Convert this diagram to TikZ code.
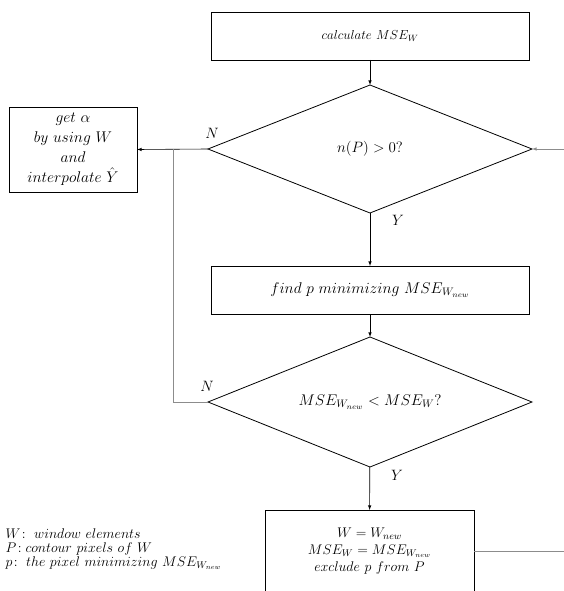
\documentclass[tikz,border=0pt]{standalone}
\usepackage{fix-cm}
\usetikzlibrary{shapes.geometric}

\begin{document}
\begin{tikzpicture}[x=1pt, y=-1pt,
	every node/.style={font=\fontsize{14}{17}\selectfont},
	block/.style={draw, line width=0.8pt, minimum width=318pt, minimum height=48pt, inner sep=0pt, outer sep=0pt},
	decision/.style={draw, diamond, aspect=2.5, line width=0.8pt, minimum width=324pt, minimum height=128pt, inner sep=0pt, outer sep=0pt},
	yn/.style={font=\fontsize{15}{17}\selectfont},
	flow/.style={-latex, line width=0.6pt},
	loop/.style={line width=0.6pt, black!45}]
	\useasboundingbox (0,0) rectangle (564,591);
	\clip (0,0) rectangle (564,591);

	% Boxes
	\node[block, font=\fontsize{13}{16}\selectfont] (calc) at (370,36) {$calculate\ MSE_W$};
	\node[block, font=\fontsize{15.5}{18}\selectfont] (find) at (370,290) {$find\ p\ minimizing\ MSE_{W_{new}}$};
	\node[block, minimum width=128pt, minimum height=85pt, align=center, font=\fontsize{15.5}{20}\selectfont] (getA) at (73,149.5)
		{$get\ \alpha$\\ $by\ using\ W$\\ $and$\\ $interpolate\ \hat{Y}$};
	\node[block, minimum width=209pt, minimum height=82pt, align=center] (update) at (369.5,551)
		{$W=W_{new}$\\ $MSE_W=MSE_{W_{new}}$\\ $exclude\ p\ from\ P$};

	% Decisions
	\node[decision, font=\fontsize{15}{17}\selectfont] (cond1) at (370,149) {$n(P)>0?$};
	\node[decision, minimum height=130pt, font=\fontsize{15.5}{18}\selectfont] (cond2) at (370,402) {$MSE_{W_{new}}<MSE_W?$};

	% Y / N labels
	\node[yn] (n1) at (212,133) {$N$};
	\node[yn] (y1) at (398,220) {$Y$};
	\node[yn] (n2) at (207,386) {$N$};
	\node[yn] (y2) at (397,475) {$Y$};

	% Main flow
	\draw[flow] (calc) -- (cond1);
	\draw[flow] (cond1) -- (find);
	\draw[flow] (find) -- (cond2);
	\draw[flow] (cond2) -- (update);
	\draw[flow] (cond1.west) -- (getA.east);

	% Loops
	\coordinate (join) at (173,149);
	\coordinate (turn) at (173,402);
	\draw[loop] (cond2.west) -- (turn) -- (join);
	\coordinate (loopin) at (564,149);
	\draw[flow, black!45] (loopin) -- (cond1.east);
	\coordinate (loopout) at (564,551);
	\draw[loop] (update.east) -- (loopout);

	% Legend
	\node[anchor=west, align=left, font=\fontsize{14}{13.8}\selectfont] (legend) at (2,549)
		{$W\!:\ window\ elements$\\ $P\!:contour\ pixels\ of\ W$\\ $p\!:\ the\ pixel\ minimizing\ MSE_{W_{new}}$};
\end{tikzpicture}
\end{document}
